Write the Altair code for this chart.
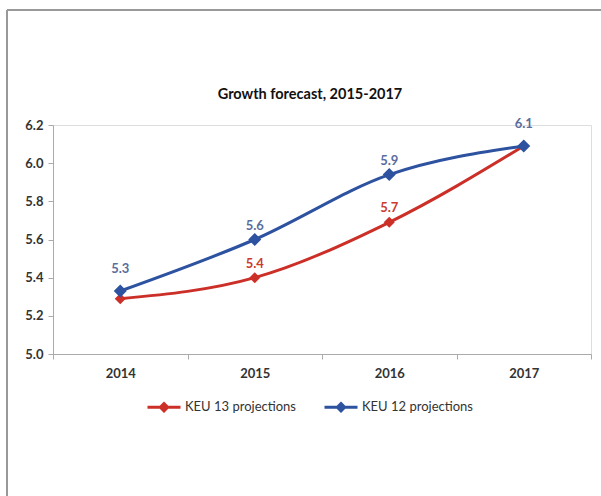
import altair as alt
import pandas as pd

years = ["2014", "2015", "2016", "2017"]
keu13 = [5.29, 5.40, 5.69, 6.09]
keu12 = [5.33, 5.60, 5.94, 6.09]
keu13_labels = ["", "5.4", "5.7", ""]
keu12_labels = ["5.3", "5.6", "5.9", "6.1"]
series_names = ["KEU 13 projections", "KEU 12 projections"]
series_colors = ["#cc2f27", "#2d52a0"]
label_colors = ["#cc3a2e", "#5a6d9e"]
end_years = ["2014", "2017"]
chart_title = "Growth forecast, 2015-2017"

rows = []
for y, v, l in zip(years, keu13, keu13_labels):
    rows.append({"year": y, "value": v, "series": series_names[0], "label": l})
for y, v, l in zip(years, keu12, keu12_labels):
    rows.append({"year": y, "value": v, "series": series_names[1], "label": l})
df = pd.DataFrame(rows)

FONT = "Lato"

x_enc = alt.X("year:N", sort=years, title=None,
              scale=alt.Scale(type="band", paddingInner=0, paddingOuter=0),
              axis=alt.Axis(labelAngle=0, tickBand="extent", labelFont=FONT,
                            labelFontSize=13, labelFontWeight="bold",
                            labelColor="#333", domainColor="#aaa", tickColor="#aaa",
                            tickSize=5, labelPadding=8))
y_enc = alt.Y("value:Q", title=None,
              scale=alt.Scale(domain=[5.0, 6.2], nice=False, zero=False),
              axis=alt.Axis(values=[5.0, 5.2, 5.4, 5.6, 5.8, 6.0, 6.2], format=".1f",
                            grid=False, labelFont=FONT, labelFontSize=13,
                            labelFontWeight="bold", labelColor="#333",
                            domainColor="#aaa", tickColor="#aaa", tickSize=5,
                            labelPadding=5))
color_enc = alt.Color("series:N",
                      scale=alt.Scale(domain=series_names, range=series_colors),
                      legend=alt.Legend(title=None, orient="none", direction="horizontal",
                                        legendX=93, legendY=264,
                                        symbolType="M-1,0H1M0,-0.22L0.22,0L0,0.22L-0.22,0Z",
                                        symbolSize=1089, symbolStrokeWidth=3,
                                        labelFont=FONT, labelFontSize=13,
                                        labelColor="#333", labelOffset=3,
                                        columnPadding=22))

base = alt.Chart(df)

lines = base.mark_line(interpolate="monotone", strokeWidth=3).encode(
    x=x_enc, y=y_enc, color=color_enc)

pts = base.mark_point(shape="diamond", filled=True, opacity=1).encode(
    x=x_enc, y=y_enc,
    color=alt.Color("series:N", scale=alt.Scale(domain=series_names, range=series_colors), legend=None),
    size=alt.Size("series:N", scale=alt.Scale(domain=series_names, range=[121, 169]), legend=None))

label_color = alt.Color("series:N", scale=alt.Scale(domain=series_names, range=label_colors), legend=None)
labels_mid = base.transform_filter(
    alt.FieldOneOfPredicate(field="year", oneOf=["2015", "2016"])
).mark_text(dy=-14, fontSize=13, font=FONT, fontWeight="bold").encode(
    x=x_enc, y=y_enc, text="label:N", color=label_color)
labels_end = base.transform_filter(
    alt.FieldOneOfPredicate(field="year", oneOf=end_years)
).mark_text(dy=-22, fontSize=13, font=FONT, fontWeight="bold").encode(
    x=x_enc, y=y_enc, text="label:N", color=label_color)

title_mark = alt.Chart(pd.DataFrame({"t": [chart_title]})).mark_text(
    font=FONT, fontSize=14.5, fontWeight="bold", color="#111", align="center", baseline="middle"
).encode(text="t:N", x=alt.value(257), y=alt.value(-30))

frame_top = alt.Chart(df).mark_rule(color="#999999", strokeWidth=2).encode(
    x=alt.value(-46), x2=alt.value(560), y=alt.value(-115))
frame_left = alt.Chart(df).mark_rule(color="#999999", strokeWidth=2).encode(
    x=alt.value(-46), y=alt.value(-115), y2=alt.value(380))

chart = alt.layer(frame_top, frame_left, title_mark, lines, pts, labels_mid, labels_end).resolve_scale(
    color="independent", size="independent"
).properties(
    width=538, height=229,
    padding={"left": 53, "top": 125, "right": 10, "bottom": 142},
    autosize=alt.AutoSizeParams(type="none"),
).configure_view(stroke=None).configure(background="white")

chart.save("out.html", embed_options={"renderer": "svg", "actions": False})
